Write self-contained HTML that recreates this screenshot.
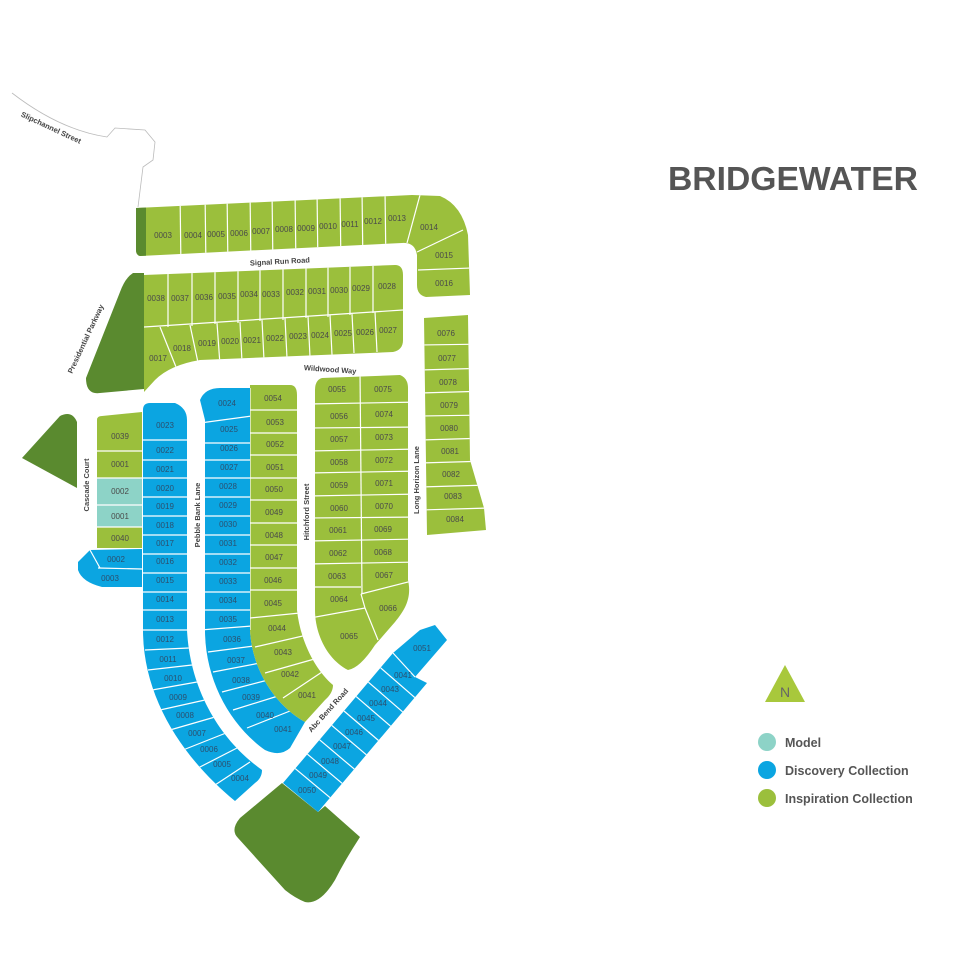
<!DOCTYPE html>
<html><head><meta charset="utf-8"><style>
html,body{margin:0;padding:0;background:#fff;}
svg{display:block;}
.l{font-family:"Liberation Sans",sans-serif;font-size:8px;fill:#4a4a4a;text-anchor:middle;}
.b{font-family:"Liberation Sans",sans-serif;font-size:8px;fill:#2c4f6e;text-anchor:middle;}
.r{font-family:"Liberation Sans",sans-serif;font-size:7.5px;fill:#444;font-weight:bold;text-anchor:middle;}
.w{stroke:#fff;stroke-width:1.2;fill:none;}
</style></head><body>
<svg width="960" height="960" viewBox="0 0 960 960" xmlns="http://www.w3.org/2000/svg">
<defs>
<clipPath id="c1"><path d="M136,208 L412,195 L440,196 Q462,205 468,235 L470,295 L426,297 Q417,295 417,285 L417,255 Q415,242 402,243 L140,256 Q136,255 136,250 Z"/></clipPath>
<clipPath id="c2"><path d="M144,275 L395,265 Q403,265 403,275 L403,340 Q403,350 393,352 L200,360 Q170,365 155,380 L144,392 Z"/></clipPath>
<clipPath id="c3"><path d="M143,410 Q143,403 150,403 L175,403 Q187,408 187,420 L187,630 C190,690 220,740 262,770 Q262,778 255,783 L235,801 C185,760 143,700 143,630 Z"/></clipPath>
<clipPath id="c4"><path d="M200,400 Q205,388 220,388 L250,388 L250,630 C252,670 275,705 305,722 L290,748 Q280,757 265,750 C230,725 205,680 205,630 L205,420 Z"/></clipPath>
<clipPath id="c5"><path d="M250,385 L290,385 Q297,385 297,395 L297,610 C300,640 315,670 333,685 Q333,693 325,700 L305,722 C275,705 252,670 250,630 Z"/></clipPath>
<clipPath id="c6"><path d="M322,378 L400,375 Q408,378 408,388 L408,580 C412,598 405,610 395,622 L375,645 Q360,668 348,670 C328,660 315,635 315,610 L315,390 Q315,380 322,378 Z"/></clipPath>
<clipPath id="c7"><path d="M424,318 L468,315 L470,460 L484,508 L486,530 L427,535 Z"/></clipPath>
<clipPath id="c8"><path d="M283,783 L393,653 L420,630 L435,625 L447,640 L415,677 L427,683 L318,812 Z"/></clipPath>
<clipPath id="c9"><path d="M97,420 Q97,416 102,416 L142,412 L142,548 L97,548 Z"/></clipPath>
</defs>

<path d="M12,93 Q60,130 107,137 L115,128 L145,130 L155,142 L153,160 L143,167 L138,207" fill="none" stroke="#bbb" stroke-width="0.8"/>
<text x="50" y="130" transform="rotate(25 50 130)" class="r" font-size="7">Slipchannel Street</text>

<g clip-path="url(#c1)">
<rect x="130" y="190" width="350" height="110" fill="#9bbf3c"/>
<rect x="130" y="190" width="16" height="110" fill="#5a8a2f"/>
<g class="w">
<line x1="180" y1="190" x2="181" y2="270"/><line x1="205" y1="190" x2="206" y2="270"/><line x1="227" y1="190" x2="228" y2="270"/><line x1="250" y1="190" x2="251" y2="270"/><line x1="272" y1="190" x2="273" y2="270"/><line x1="295" y1="190" x2="296" y2="270"/><line x1="317" y1="190" x2="318" y2="270"/><line x1="340" y1="190" x2="341" y2="270"/><line x1="362" y1="190" x2="363" y2="270"/><line x1="385" y1="190" x2="386" y2="270"/>
<line x1="420" y1="195" x2="407" y2="243"/><line x1="417" y1="252" x2="463" y2="230"/><line x1="418" y1="270" x2="472" y2="268"/>
</g></g>
<g class="l">
<text x="163" y="238">0003</text><text x="193" y="238">0004</text><text x="216" y="237">0005</text><text x="239" y="236">0006</text><text x="261" y="234">0007</text><text x="284" y="232">0008</text><text x="306" y="231">0009</text><text x="328" y="229">0010</text><text x="350" y="227">0011</text><text x="373" y="224">0012</text><text x="397" y="221">0013</text><text x="429" y="230">0014</text><text x="444" y="258">0015</text><text x="444" y="286">0016</text>
</g>
<text x="280" y="264" transform="rotate(-3 280 264)" class="r">Signal Run Road</text>

<path d="M144,273 L133,273 Q125,278 120,292 L86,378 Q86,395 100,393 L144,389 Z" fill="#5a8a2f"/>
<text x="88" y="340" transform="rotate(-65 88 340)" class="r">Presidential Parkway</text>

<g clip-path="url(#c2)">
<rect x="140" y="260" width="270" height="140" fill="#9bbf3c"/>
<g class="w">
<line x1="168" y1="260" x2="168" y2="327"/><line x1="192" y1="260" x2="192" y2="326"/><line x1="215" y1="260" x2="215" y2="324"/><line x1="238" y1="260" x2="238" y2="323"/><line x1="260" y1="260" x2="260" y2="321"/><line x1="283" y1="260" x2="283" y2="320"/><line x1="306" y1="260" x2="306" y2="318"/><line x1="328" y1="260" x2="328" y2="317"/><line x1="350" y1="260" x2="350" y2="315"/><line x1="373" y1="260" x2="373" y2="313"/>
<line x1="144" y1="327" x2="403" y2="310"/>
<line x1="160" y1="327" x2="180" y2="377"/><line x1="190" y1="325" x2="200" y2="372"/><line x1="217" y1="323" x2="220" y2="365"/><line x1="240" y1="322" x2="242" y2="362"/><line x1="262" y1="320" x2="264" y2="360"/><line x1="285" y1="318" x2="287" y2="358"/><line x1="308" y1="316" x2="310" y2="357"/><line x1="330" y1="315" x2="332" y2="355"/><line x1="352" y1="314" x2="354" y2="353"/><line x1="375" y1="312" x2="377" y2="352"/>
</g></g>
<g class="l">
<text x="156" y="301">0038</text><text x="180" y="301">0037</text><text x="204" y="300">0036</text><text x="227" y="299">0035</text><text x="249" y="297">0034</text><text x="271" y="297">0033</text><text x="295" y="295">0032</text><text x="317" y="294">0031</text><text x="339" y="293">0030</text><text x="361" y="291">0029</text><text x="387" y="289">0028</text>
<text x="158" y="361">0017</text><text x="182" y="351">0018</text><text x="207" y="346">0019</text><text x="230" y="344">0020</text><text x="252" y="343">0021</text><text x="275" y="341">0022</text><text x="298" y="339">0023</text><text x="320" y="338">0024</text><text x="343" y="336">0025</text><text x="365" y="335">0026</text><text x="388" y="333">0027</text>
</g>
<text x="330" y="372" transform="rotate(4 330 372)" class="r">Wildwood Way</text>

<path d="M22,458 L60,416 Q72,410 77,422 L77,488 Z" fill="#5a8a2f"/>
<text x="89" y="485" transform="rotate(-90 89 485)" class="r">Cascade Court</text>
<g clip-path="url(#c9)">
<rect x="95" y="410" width="50" height="140" fill="#9bbf3c"/>
<rect x="95" y="478" width="50" height="49" fill="#8dd3c7"/>
<g class="w"><line x1="95" y1="451" x2="145" y2="451"/><line x1="95" y1="478" x2="145" y2="478"/><line x1="95" y1="505" x2="145" y2="505"/><line x1="95" y1="527" x2="145" y2="527"/></g>
</g>
<path d="M78,562 L90,550 L142,549 L142,587 L102,587 Q82,582 78,570 Z" fill="#0ba5e1"/>
<line x1="90" y1="550" x2="100" y2="568" class="w"/><line x1="98" y1="568" x2="142" y2="569" class="w"/>
<g class="l"><text x="120" y="439">0039</text><text x="120" y="467">0001</text><text x="120" y="494">0002</text><text x="120" y="519">0001</text><text x="120" y="541">0040</text></g>
<g class="b"><text x="116" y="562">0002</text><text x="110" y="581">0003</text></g>

<g clip-path="url(#c3)">
<rect x="135" y="400" width="140" height="410" fill="#0ba5e1"/>
<g class="w">
<line x1="140" y1="440" x2="190" y2="440"/><line x1="140" y1="460" x2="190" y2="460"/><line x1="140" y1="478" x2="190" y2="478"/><line x1="140" y1="497" x2="190" y2="497"/><line x1="140" y1="516" x2="190" y2="516"/><line x1="140" y1="535" x2="190" y2="535"/><line x1="140" y1="554" x2="190" y2="554"/><line x1="140" y1="573" x2="190" y2="573"/><line x1="140" y1="592" x2="190" y2="592"/><line x1="140" y1="610" x2="190" y2="610"/><line x1="140" y1="630" x2="190" y2="630"/>
<line x1="145" y1="650" x2="189" y2="648"/><line x1="148" y1="670" x2="192" y2="665"/><line x1="152" y1="690" x2="197" y2="682"/><line x1="160" y1="710" x2="205" y2="700"/><line x1="170" y1="730" x2="215" y2="717"/><line x1="183" y1="750" x2="226" y2="733"/><line x1="198" y1="768" x2="237" y2="748"/><line x1="215" y1="785" x2="250" y2="762"/>
</g></g>
<g class="b">
<text x="165" y="428">0023</text><text x="165" y="453">0022</text><text x="165" y="472">0021</text><text x="165" y="491">0020</text><text x="165" y="509">0019</text><text x="165" y="528">0018</text><text x="165" y="546">0017</text><text x="165" y="564">0016</text><text x="165" y="583">0015</text><text x="165" y="602">0014</text><text x="165" y="622">0013</text><text x="165" y="642">0012</text>
<text x="168" y="662">0011</text><text x="173" y="681">0010</text><text x="178" y="700">0009</text><text x="185" y="718">0008</text><text x="197" y="736">0007</text><text x="209" y="752">0006</text><text x="222" y="767">0005</text><text x="240" y="781">0004</text>
</g>
<text x="200" y="515" transform="rotate(-90 200 515)" class="r">Pebble Bank Lane</text>

<g clip-path="url(#c4)">
<rect x="195" y="380" width="120" height="380" fill="#0ba5e1"/>
<g class="w">
<line x1="200" y1="423" x2="252" y2="416"/><line x1="200" y1="443" x2="252" y2="443"/><line x1="200" y1="460" x2="252" y2="460"/><line x1="200" y1="478" x2="252" y2="478"/><line x1="200" y1="497" x2="252" y2="497"/><line x1="200" y1="516" x2="252" y2="516"/><line x1="200" y1="535" x2="252" y2="535"/><line x1="200" y1="554" x2="252" y2="554"/><line x1="200" y1="573" x2="252" y2="573"/><line x1="200" y1="592" x2="252" y2="592"/><line x1="200" y1="610" x2="252" y2="610"/><line x1="200" y1="630" x2="252" y2="626"/>
<line x1="208" y1="652" x2="254" y2="646"/><line x1="213" y1="672" x2="260" y2="663"/><line x1="222" y1="692" x2="268" y2="680"/><line x1="233" y1="710" x2="278" y2="696"/><line x1="247" y1="728" x2="290" y2="711"/>
</g></g>
<g class="b">
<text x="227" y="406">0024</text><text x="229" y="432">0025</text><text x="229" y="451">0026</text><text x="229" y="470">0027</text><text x="228" y="489">0028</text><text x="228" y="508">0029</text><text x="228" y="527">0030</text><text x="228" y="546">0031</text><text x="228" y="565">0032</text><text x="228" y="584">0033</text><text x="228" y="603">0034</text><text x="228" y="622">0035</text><text x="232" y="642">0036</text><text x="236" y="663">0037</text><text x="241" y="683">0038</text><text x="251" y="700">0039</text><text x="265" y="718">0040</text><text x="283" y="732">0041</text>
</g>

<g clip-path="url(#c5)">
<rect x="245" y="380" width="95" height="350" fill="#9bbf3c"/>
<g class="w">
<line x1="245" y1="410" x2="300" y2="410"/><line x1="245" y1="433" x2="300" y2="433"/><line x1="245" y1="455" x2="300" y2="455"/><line x1="245" y1="478" x2="300" y2="478"/><line x1="245" y1="500" x2="300" y2="500"/><line x1="245" y1="523" x2="300" y2="523"/><line x1="245" y1="545" x2="300" y2="545"/><line x1="245" y1="568" x2="300" y2="568"/><line x1="245" y1="590" x2="300" y2="590"/><line x1="250" y1="618" x2="300" y2="613"/>
<line x1="255" y1="647" x2="307" y2="635"/><line x1="265" y1="673" x2="318" y2="658"/><line x1="283" y1="698" x2="322" y2="672"/>
<line x1="250" y1="388" x2="250" y2="630"/>
</g></g>
<g class="l">
<text x="273" y="401">0054</text><text x="275" y="425">0053</text><text x="275" y="447">0052</text><text x="275" y="470">0051</text><text x="274" y="492">0050</text><text x="274" y="515">0049</text><text x="274" y="538">0048</text><text x="274" y="560">0047</text><text x="273" y="583">0046</text><text x="273" y="606">0045</text><text x="277" y="631">0044</text><text x="283" y="655">0043</text><text x="290" y="677">0042</text><text x="307" y="698">0041</text>
</g>
<text x="309" y="512" transform="rotate(-90 309 512)" class="r">Hitchford Street</text>

<g clip-path="url(#c6)">
<rect x="310" y="370" width="110" height="310" fill="#9bbf3c"/>
<g class="w">
<line x1="360" y1="370" x2="362" y2="594"/>
<line x1="310" y1="404" x2="420" y2="402"/><line x1="310" y1="428" x2="420" y2="427"/><line x1="310" y1="451" x2="420" y2="449"/><line x1="310" y1="473" x2="420" y2="471"/><line x1="310" y1="496" x2="420" y2="494"/><line x1="310" y1="518" x2="420" y2="517"/><line x1="310" y1="541" x2="420" y2="539"/><line x1="310" y1="564" x2="420" y2="562"/><line x1="310" y1="587" x2="361" y2="587"/>
<line x1="361" y1="594" x2="412" y2="581"/><line x1="310" y1="618" x2="365" y2="608"/><line x1="365" y1="608" x2="378" y2="640"/><line x1="361" y1="594" x2="365" y2="608"/>
</g></g>
<g class="l">
<text x="337" y="392">0055</text><text x="383" y="392">0075</text><text x="339" y="419">0056</text><text x="384" y="417">0074</text><text x="339" y="442">0057</text><text x="384" y="440">0073</text><text x="339" y="465">0058</text><text x="384" y="463">0072</text><text x="339" y="488">0059</text><text x="384" y="486">0071</text><text x="339" y="511">0060</text><text x="384" y="509">0070</text><text x="338" y="533">0061</text><text x="383" y="532">0069</text><text x="338" y="556">0062</text><text x="383" y="555">0068</text><text x="337" y="579">0063</text><text x="384" y="578">0067</text><text x="339" y="602">0064</text><text x="388" y="611">0066</text><text x="349" y="639">0065</text>
</g>
<text x="419" y="480" transform="rotate(-90 419 480)" class="r">Long Horizon Lane</text>

<g clip-path="url(#c7)">
<rect x="420" y="310" width="70" height="230" fill="#9bbf3c"/>
<g class="w">
<line x1="420" y1="345" x2="490" y2="344"/><line x1="420" y1="370" x2="490" y2="368"/><line x1="420" y1="393" x2="490" y2="391"/><line x1="420" y1="416" x2="490" y2="415"/><line x1="420" y1="440" x2="490" y2="438"/><line x1="420" y1="463" x2="490" y2="461"/><line x1="420" y1="487" x2="490" y2="485"/><line x1="420" y1="510" x2="490" y2="508"/>
</g></g>
<g class="l">
<text x="446" y="336">0076</text><text x="447" y="361">0077</text><text x="448" y="385">0078</text><text x="449" y="408">0079</text><text x="449" y="431">0080</text><text x="450" y="454">0081</text><text x="451" y="477">0082</text><text x="453" y="499">0083</text><text x="455" y="522">0084</text>
</g>

<path d="M282,783 L318,812 L325,806 L360,837 Q345,860 335,880 Q320,905 305,902 Q295,898 285,890 L238,838 Q230,830 240,818 Z" fill="#5a8a2f"/>

<g clip-path="url(#c8)">
<rect x="275" y="620" width="180" height="200" fill="#0ba5e1"/>
<g class="w">
<line x1="295.2" y1="768.6" x2="330.1" y2="797.7"/><line x1="307.4" y1="754.2" x2="342.2" y2="783.4"/><line x1="319.6" y1="739.8" x2="354.3" y2="769.1"/><line x1="331.8" y1="725.4" x2="366.4" y2="754.8"/><line x1="344" y1="711" x2="378.5" y2="740.5"/><line x1="356.2" y1="696.6" x2="390.6" y2="726.2"/><line x1="368.4" y1="682.2" x2="402.7" y2="711.9"/><line x1="380.6" y1="667.8" x2="414.8" y2="697.6"/><line x1="393" y1="653" x2="415" y2="677"/>
</g></g>
<g class="b">
<text x="307" y="793">0050</text><text x="318" y="778">0049</text><text x="330" y="764">0048</text><text x="342" y="749">0047</text><text x="354" y="735">0046</text><text x="366" y="721">0045</text><text x="378" y="706">0044</text><text x="390" y="692">0043</text><text x="403" y="678">0041</text><text x="422" y="651">0051</text>
</g>
<text x="330" y="712" transform="rotate(-48 330 712)" class="r">Abc Bend Road</text>

<text x="668" y="190" font-family="Liberation Sans, sans-serif" font-weight="bold" font-size="33" fill="#555" textLength="250" lengthAdjust="spacingAndGlyphs">BRIDGEWATER</text>

<polygon points="765,702 785,665 805,702" fill="#a8c83c"/>
<text x="785" y="697" text-anchor="middle" font-family="Liberation Sans, sans-serif" font-size="14" fill="#666">N</text>
<circle cx="767" cy="742" r="9" fill="#8dd3c7"/>
<circle cx="767" cy="770" r="9" fill="#0ba5e1"/>
<circle cx="767" cy="798" r="9" fill="#9bbf3c"/>
<g font-family="Liberation Sans, sans-serif" font-size="12.5" font-weight="bold" fill="#555">
<text x="785" y="747">Model</text><text x="785" y="775">Discovery Collection</text><text x="785" y="803">Inspiration Collection</text>
</g>
</svg>
</body></html>
